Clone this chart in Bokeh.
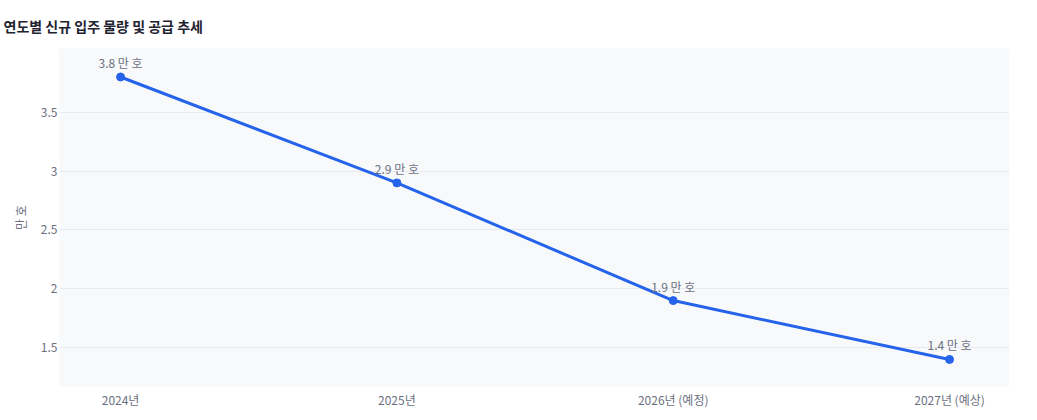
from bokeh.plotting import figure
from bokeh.models import ColumnDataSource, Range1d, FixedTicker
from bokeh.embed import file_html
from bokeh.resources import INLINE
from bokeh.core.properties import value

categories = ["2024년", "2025년", "2026년 (예정)", "2027년 (예상)"]
values = [3.8, 2.9, 1.9, 1.4]
labels = ["3.8 만 호", "2.9 만 호", "1.9 만 호", "1.4 만 호"]
y_ticks = [1.5, 2, 2.5, 3, 3.5]

FONT = "Noto Sans CJK KR"
xs = list(range(len(categories)))
src = ColumnDataSource(dict(x=xs, y=values, label=labels))

p = figure(width=1021, height=412, output_backend="svg", toolbar_location=None,
           x_range=Range1d(-0.221, 3.217), y_range=Range1d(1.17, 4.042),
           min_border_left=59, min_border_right=12, min_border_bottom=26,
           min_border_top=47,
           title="연도별 신규 입주 물량 및 공급 추세")
p.title.text_font = FONT
p.title.text_font_size = "14px"
p.title.text_font_style = "bold"
p.title.text_color = "#1f2330"
p.title.offset = -56
p.title.standoff = 26

p.border_fill_color = "white"
p.background_fill_color = "#f8f9fb"
p.outline_line_color = None

p.xaxis.ticker = FixedTicker(ticks=xs)
p.xaxis.major_label_overrides = {i: c for i, c in enumerate(categories)}
p.yaxis.ticker = FixedTicker(ticks=y_ticks)
p.yaxis.major_label_overrides = {1.5: "1.5", 2: "2", 2.5: "2.5", 3: "3", 3.5: "3.5"}
for ax in (p.xaxis, p.yaxis):
    ax.axis_line_color = None
    ax.major_tick_line_color = None
    ax.minor_tick_line_color = None
    ax.major_tick_out = 0
    ax.major_tick_in = 0
    ax.minor_tick_out = 0
    ax.minor_tick_in = 0
    ax.major_label_text_font = FONT
    ax.major_label_text_font_size = "12px"
    ax.major_label_text_color = "#6b7080"
p.yaxis.axis_label = "만 호"
p.yaxis.axis_label_text_font = FONT
p.yaxis.axis_label_text_font_size = "12px"
p.yaxis.axis_label_text_font_style = "normal"
p.yaxis.axis_label_text_color = "#6b7080"
p.yaxis.axis_label_standoff = 9
p.yaxis.major_label_standoff = 2
p.xaxis.major_label_standoff = 4

p.xgrid.grid_line_color = None
p.ygrid.grid_line_color = "#e8eaf0"
p.ygrid.grid_line_width = 1

p.line("x", "y", source=src, line_color="#2563eb", line_width=3)
p.scatter("x", "y", source=src, size=8, fill_color="#2563eb", line_color="#2563eb")
p.text("x", "y", text="label", source=src, text_align="center", text_baseline="bottom",
       y_offset=-6, text_font=value(FONT), text_font_size="12px", text_color="#6b7080")

open("out.html", "w").write(file_html(p, INLINE))
